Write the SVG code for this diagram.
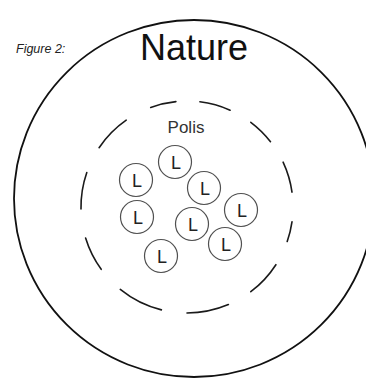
<svg xmlns="http://www.w3.org/2000/svg" width="366" height="379" viewBox="0 0 366 379">
<style>
.lc{fill:none;stroke:#505050;stroke-width:1.2}
.lt{font-family:"Liberation Sans",Arial,sans-serif;font-size:18px;fill:#222;text-anchor:middle}
.dash{fill:none;stroke:#1a1a1a;stroke-width:1.6;stroke-linecap:round}
</style>
<rect width="366" height="379" fill="#fff"/>
<g id="nature">
<ellipse cx="194" cy="198.5" rx="180" ry="178.5" fill="none" stroke="#111" stroke-width="1.8"/>
<text x="194" y="60" font-family="'Liberation Sans',Arial,sans-serif" font-size="36" fill="#111" text-anchor="middle">Nature</text>
</g>
<text id="figure-label" x="16" y="53" font-family="'Liberation Sans',Arial,sans-serif" font-size="12.5" font-style="italic" fill="#222">Figure 2:</text>
<g id="polis">
<path class="dash" d="M150.7,107.4 A106,106 0 0 1 175.9,101.6 M199.9,101.8 A106,106 0 0 1 230.1,110.2 M250.8,122.3 A106,106 0 0 1 270.5,141.7 M283.1,162.2 A106,106 0 0 1 292,192.2 M292,221.8 A106,106 0 0 1 287.2,241.5 M275.9,264.7 A106,106 0 0 1 250.8,291.7 M228.4,304.6 A106,106 0 0 1 187,313 M161.4,309.9 A106,106 0 0 1 120.3,289.4 M101.2,269.3 A106,106 0 0 1 85.6,238 M81,208.9 A106,106 0 0 1 86.8,172.5 M99.1,147.7 A106,106 0 0 1 126.2,120.2"/>
<text x="186" y="133" font-family="'Liberation Sans',Arial,sans-serif" font-size="17" fill="#333" text-anchor="middle">Polis</text>
</g>
<g id="L1"><circle class="lc" cx="175" cy="162" r="16.5"/><text class="lt" x="176" y="168.5">L</text></g>
<g id="L2"><circle class="lc" cx="136" cy="180" r="16.5"/><text class="lt" x="137" y="186.5">L</text></g>
<g id="L3"><circle class="lc" cx="204" cy="188" r="16.5"/><text class="lt" x="205" y="194.5">L</text></g>
<g id="L4"><circle class="lc" cx="137" cy="217" r="16.5"/><text class="lt" x="138" y="223.5">L</text></g>
<g id="L5"><circle class="lc" cx="192" cy="224" r="16.5"/><text class="lt" x="193" y="230.5">L</text></g>
<g id="L6"><circle class="lc" cx="241" cy="210" r="16.5"/><text class="lt" x="242" y="216.5">L</text></g>
<g id="L7"><circle class="lc" cx="225" cy="244" r="16.5"/><text class="lt" x="226" y="250.5">L</text></g>
<g id="L8"><circle class="lc" cx="161" cy="256" r="16.5"/><text class="lt" x="162" y="262.5">L</text></g>
<g id="connectors"></g>
</svg>
